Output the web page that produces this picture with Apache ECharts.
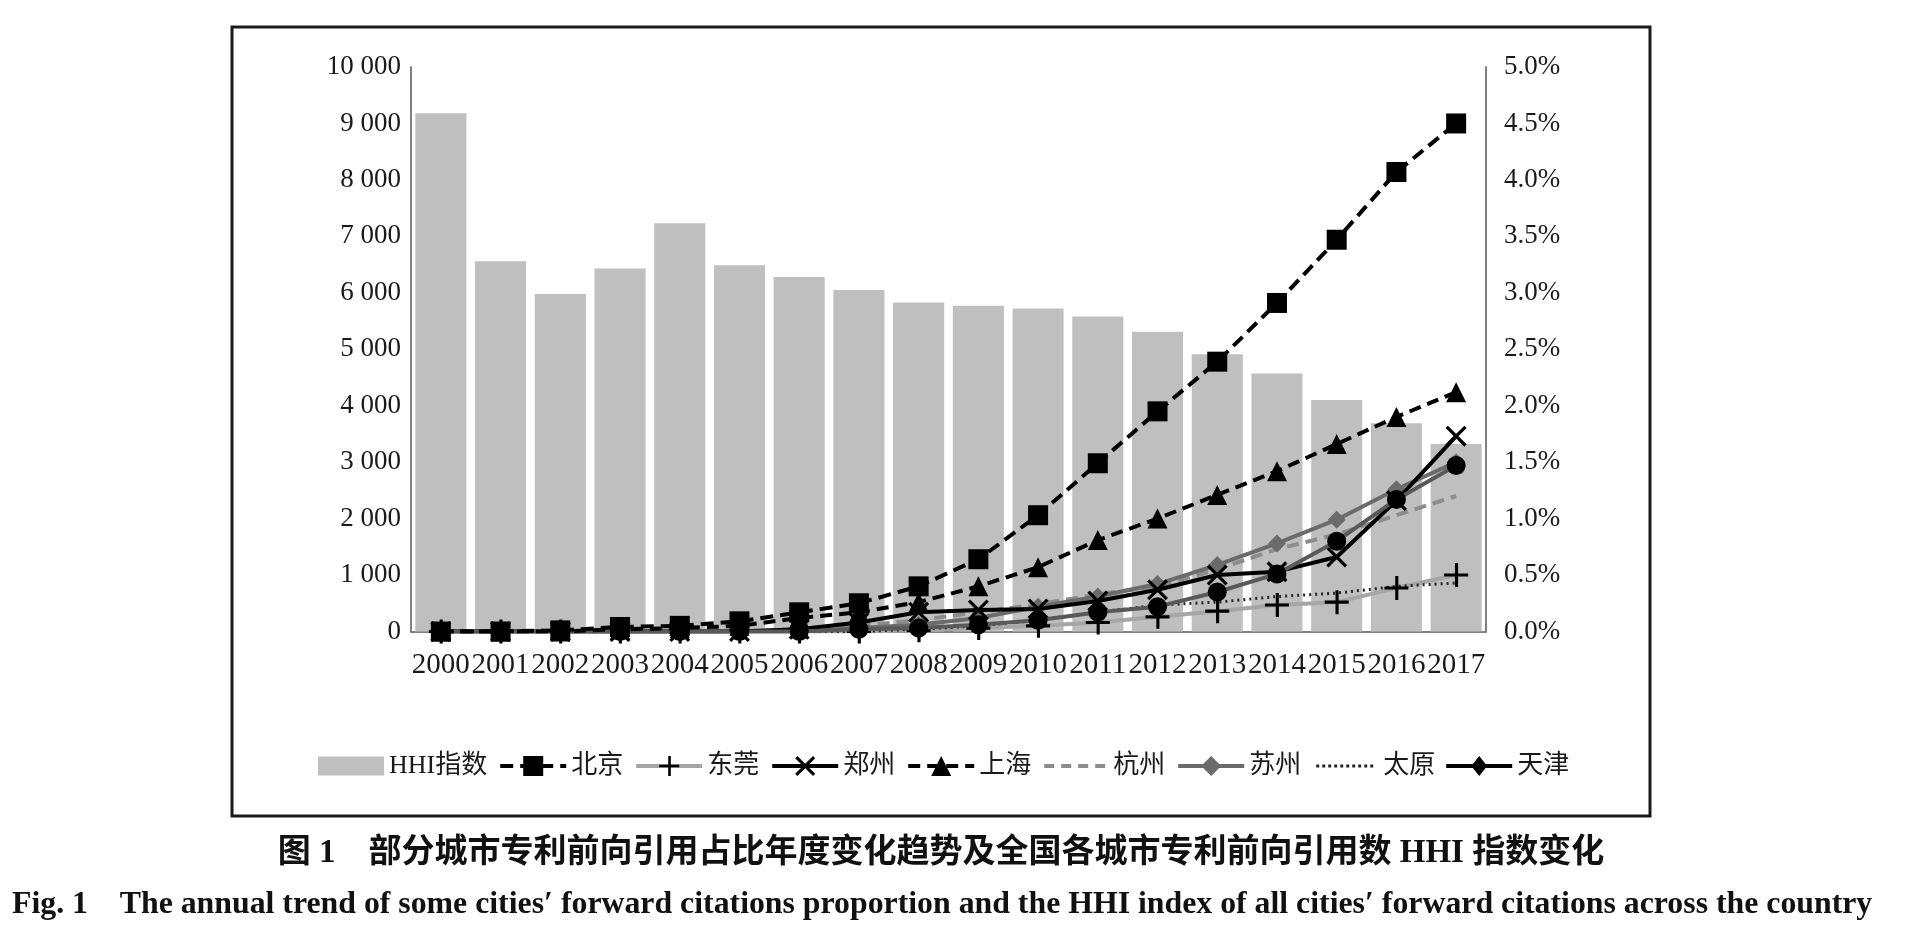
<!DOCTYPE html>
<html>
<head>
<meta charset="utf-8">
<script src="https://cdn.jsdelivr.net/npm/echarts@6/dist/echarts.min.js"></script>
<style>
  html, body { margin: 0; padding: 0; background: #fff; }
  #chart { width: 1908px; height: 940px; }
</style>
</head>
<body>
<div id="chart"></div>
<script>
const years = ['2000','2001','2002','2003','2004','2005','2006','2007','2008','2009','2010','2011','2012','2013','2014','2015','2016','2017']

// HHI index (left axis)
const hhi = [9180, 6560, 5980, 6430, 7230, 6490, 6280, 6050, 5830, 5770, 5720, 5580, 5310, 4910, 4570, 4100, 3690, 3320]

// forward citation share, % (right axis)
const beijing   = [0, 0, 0.01, 0.04, 0.05, 0.09, 0.17, 0.25, 0.40, 0.64, 1.03, 1.49, 1.95, 2.39, 2.91, 3.47, 4.07, 4.50]
const dongguan  = [0, 0, 0, 0, 0, 0, 0, 0, 0.01, 0.03, 0.05, 0.08, 0.13, 0.18, 0.235, 0.26, 0.385, 0.50]
const zhengzhou = [0, 0, 0, 0, 0, 0, 0.02, 0.08, 0.17, 0.19, 0.20, 0.27, 0.37, 0.50, 0.53, 0.66, 1.16, 1.73]
const shanghai  = [0, 0, 0, 0.02, 0.03, 0.05, 0.12, 0.17, 0.26, 0.40, 0.57, 0.81, 1.00, 1.21, 1.42, 1.66, 1.90, 2.12]
const hangzhou  = [0, 0, 0, 0, 0, 0, 0.02, 0.05, 0.10, 0.17, 0.24, 0.33, 0.40, 0.55, 0.73, 0.86, 1.03, 1.20]
const suzhou    = [0, 0, 0, 0, 0, 0, 0, 0.03, 0.06, 0.12, 0.22, 0.31, 0.42, 0.59, 0.78, 0.99, 1.26, 1.50]
const taiyuan   = [0, 0, 0, 0, 0, 0, 0, 0, 0.02, 0.05, 0.10, 0.17, 0.235, 0.26, 0.31, 0.34, 0.40, 0.43]
const tianjin   = [0, 0, 0, 0, 0, 0, 0, 0.02, 0.03, 0.06, 0.10, 0.17, 0.22, 0.35, 0.51, 0.80, 1.17, 1.47]

const leftTicks = { min: 0, max: 10000, interval: 1000 }
const rightTicks = { min: 0, max: 5, interval: 0.5 }

const serif = '"Liberation Serif", "Noto Sans CJK SC", serif'
const plusSym = 'path://M9,0h2.6v20h-2.6zM0,8.7h20v2.6h-20z'
const crossSym = 'path://M0,2.2L2.2,0L20,17.8L17.8,20ZM17.8,0L20,2.2L2.2,20L0,17.8Z'

// legend icons drawn in a 66x25 box (tiny corner dots keep the box size)
const box = 'M0,0h0.1v0.1h-0.1zM66,25h-0.1v-0.1h0.1z'
const barIcon = 'path://' + box + 'M0,3h66v19h-66z'
const dashIcon = 'path://' + box + 'M2,10.5h10v4h-10zM19,10.5h10v4h-10zM36,10.5h10v4h-10zM53,10.5h10v4h-10z'
let dots = ''
for (let x = 4; x < 64; x += 6) dots += 'M' + x + ',11h3v3h-3z'
const dotIcon = 'path://' + box + dots
const tianjinIcon = 'path://' + box + 'M0,10.5h66v4h-66zM33,2.5L41,12.5L33,22.5L25,12.5Z'

let chart = echarts.init(document.getElementById('chart'))

function lineSeries(name, data, opts) {
    return Object.assign({
        name: name,
        type: 'line',
        yAxisIndex: 1,
        data: data,
        z: 3,
        symbolSize: 18,
        animation: false
    }, opts)
}

let option = {
    backgroundColor: '#fff',
    animation: false,
    grid: { left: 411, right: 422, top: 67, bottom: 308.5 },
    legend: {
        left: 313,
        top: 748,
        itemWidth: 66,
        itemHeight: 25,
        itemGap: 11,
        lineStyle: { width: 4 },
        textStyle: { fontFamily: serif, fontSize: 26, color: '#1a1a1a' },
        data: [
            { name: 'HHI指数', icon: barIcon },
            '北京', '东莞', '郑州', '上海',
            { name: '杭州', icon: dashIcon },
            '苏州',
            { name: '太原', icon: dotIcon },
            { name: '天津', icon: tianjinIcon }
        ]
    },
    xAxis: {
        type: 'category',
        data: years,
        axisTick: { show: false },
        axisLine: { lineStyle: { color: '#808080', width: 2 } },
        axisLabel: { interval: 0, margin: 19, fontFamily: serif, fontSize: 29, color: '#1a1a1a' }
    },
    yAxis: [
        {
            type: 'value',
            min: leftTicks.min, max: leftTicks.max, interval: leftTicks.interval,
            splitLine: { show: false },
            axisTick: { show: false },
            axisLine: { show: true, lineStyle: { color: '#808080', width: 2 } },
            axisLabel: {
                margin: 10, fontFamily: serif, fontSize: 27, color: '#1a1a1a',
                formatter: v => v >= 1000 ? Math.floor(v / 1000) + ' 000' : String(v)
            }
        },
        {
            type: 'value',
            position: 'right',
            min: rightTicks.min, max: rightTicks.max, interval: rightTicks.interval,
            splitLine: { show: false },
            axisTick: { show: false },
            axisLine: { show: true, lineStyle: { color: '#808080', width: 2 } },
            axisLabel: {
                margin: 18, fontFamily: serif, fontSize: 27, color: '#1a1a1a',
                formatter: v => v.toFixed(1) + '%'
            }
        }
    ],
    series: [
        {
            name: 'HHI指数',
            type: 'bar',
            data: hhi,
            barCategoryGap: '14.5%',
            itemStyle: { color: '#bfbfbf' },
            z: 1
        },
        lineSeries('北京', beijing, {
            symbol: 'rect', symbolSize: 20,
            lineStyle: { color: '#000', width: 4, type: [13, 7] },
            itemStyle: { color: '#000' }, z: 9
        }),
        lineSeries('东莞', dongguan, {
            symbol: plusSym, symbolSize: 24,
            lineStyle: { color: '#a6a6a6', width: 4 },
            itemStyle: { color: '#000' }, z: 4
        }),
        lineSeries('郑州', zhengzhou, {
            symbol: crossSym, symbolSize: 21,
            lineStyle: { color: '#000', width: 4 },
            itemStyle: { color: '#000' }, z: 6
        }),
        lineSeries('上海', shanghai, {
            symbol: 'triangle', symbolSize: 20,
            lineStyle: { color: '#000', width: 4, type: [12, 7] },
            itemStyle: { color: '#000' }, z: 8
        }),
        lineSeries('杭州', hangzhou, {
            symbol: 'none',
            lineStyle: { color: '#8c8c8c', width: 4, type: [12, 7] },
            itemStyle: { color: '#8c8c8c' }, z: 5
        }),
        lineSeries('苏州', suzhou, {
            symbol: 'diamond', symbolSize: 18,
            lineStyle: { color: '#6b6b6b', width: 4 },
            itemStyle: { color: '#6b6b6b' }, z: 5
        }),
        lineSeries('太原', taiyuan, {
            symbol: 'none',
            lineStyle: { color: '#262626', width: 3, type: [2, 4] },
            itemStyle: { color: '#262626' }, z: 4
        }),
        lineSeries('天津', tianjin, {
            symbol: 'circle', symbolSize: 19,
            lineStyle: { color: '#595959', width: 4 },
            itemStyle: { color: '#000' }, z: 7
        })
    ],
    graphic: [
        {
            type: 'rect',
            shape: { x: 232, y: 27, width: 1418, height: 789 },
            style: { fill: 'none', stroke: '#1a1a1a', lineWidth: 3 },
            silent: true
        },
        {
            type: 'text',
            x: 941, y: 853,
            style: {
                text: '图 1\u3000部分城市专利前向引用占比年度变化趋势及全国各城市专利前向引用数 HHI 指数变化',
                font: 'bold 33px "Liberation Serif", "Noto Sans CJK SC"',
                textAlign: 'center', textVerticalAlign: 'middle', fill: '#111'
            }
        },
        {
            type: 'text',
            x: 12, y: 905,
            style: {
                text: 'Fig. 1\u2003The annual trend of some cities\u2032 forward citations proportion and the HHI index of all cities\u2032 forward citations across the country',
                font: 'bold 31.8px "Liberation Serif"',
                textAlign: 'left', textVerticalAlign: 'middle', fill: '#111'
            }
        }
    ]
}

chart.setOption(option)
</script>
</body>
</html>
